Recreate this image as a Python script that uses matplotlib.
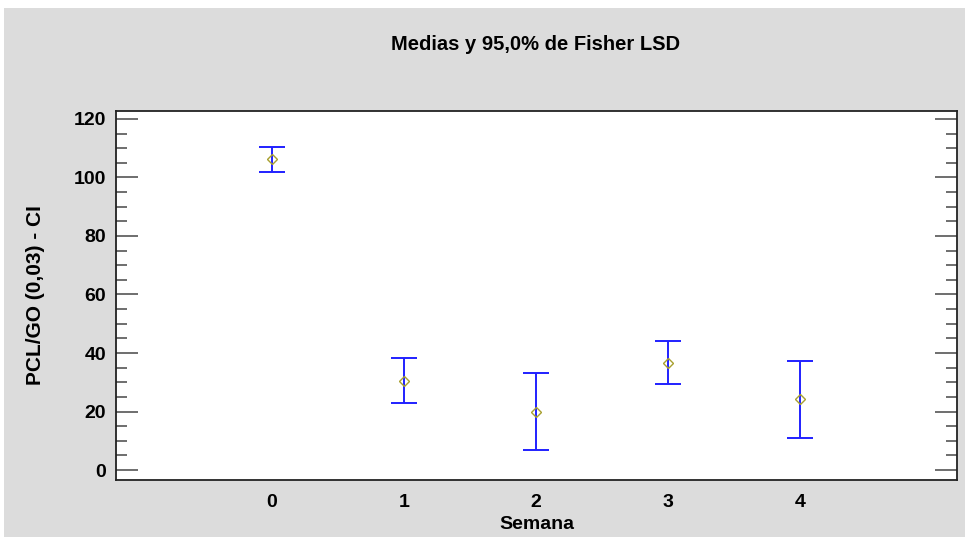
""" Medias y intervalos LSD de Fisher por semana """

import matplotlib
matplotlib.use('Agg')
import matplotlib.pyplot as plt
from matplotlib.patches import Rectangle
from matplotlib.ticker import MultipleLocator

semanas = ['0', '1', '2', '3', '4']
medias = [106.2, 30.5, 20.0, 36.6, 24.3]
limite_inf = [101.9, 23.0, 6.9, 29.4, 11.1]
limite_sup = [110.3, 38.2, 33.1, 44.1, 37.4]

plt.rcParams['font.family'] = ['Liberation Sans', 'DejaVu Sans']

fig = plt.figure(figsize=(9.65, 5.37), dpi=100, facecolor='white')
# panel gris de fondo
fig.patches.append(Rectangle((4 / 965, 0), 1, (537 - 8) / 537,
                             transform=fig.transFigure, facecolor='#dcdcdc',
                             edgecolor='none', zorder=-10))

ax = fig.add_axes([0.1202, 0.1061, 0.8715, 0.6872])
ax.set_facecolor('white')

x = list(range(len(semanas)))
err_lo = [m - lo for m, lo in zip(medias, limite_inf)]
err_hi = [hi - m for m, hi in zip(medias, limite_sup)]
ax.errorbar(x, medias, yerr=[err_lo, err_hi], fmt='none', ecolor='#2020ff',
            elinewidth=1.4, capsize=9.7, capthick=1.4)
ax.plot(x, medias, 'D', markersize=5, markerfacecolor='none',
        markeredgecolor='#a8a030', markeredgewidth=1.0)

ax.set_xlim(-1.18, 5.19)
ax.set_ylim(-3.4, 122.7)
ax.set_xticks(x)
ax.set_xticklabels(semanas)
ax.yaxis.set_major_locator(MultipleLocator(20))
ax.yaxis.set_minor_locator(MultipleLocator(5))
ax.tick_params(axis='x', length=0, labelsize=14, pad=10)
ax.tick_params(axis='y', which='major', direction='in', length=16, width=1.2,
               color='#555555', left=True, right=True, labelsize=14, pad=7)
ax.tick_params(axis='y', which='minor', direction='in', length=8, width=1.2,
               color='#555555', left=True, right=True)
for lbl in ax.get_xticklabels() + ax.get_yticklabels():
    lbl.set_fontweight('bold')
for s in ax.spines.values():
    s.set_linewidth(1.3)
    s.set_color('#222222')

ax.set_xlabel('Semana', fontsize=14, fontweight='bold')
ax.xaxis.set_label_coords(0.5, -0.098)
ax.set_ylabel('PCL/GO (0,03) - CI', fontsize=15, fontweight='bold')
ax.yaxis.set_label_coords(-0.0844, 0.5)
fig.text(536 / 965, 1 - 45 / 537,
         'Medias y 95,0% de Fisher LSD', ha='center', va='center',
         fontsize=14.5, fontweight='bold')

fig.savefig('out.png', dpi=100, facecolor=fig.get_facecolor())
